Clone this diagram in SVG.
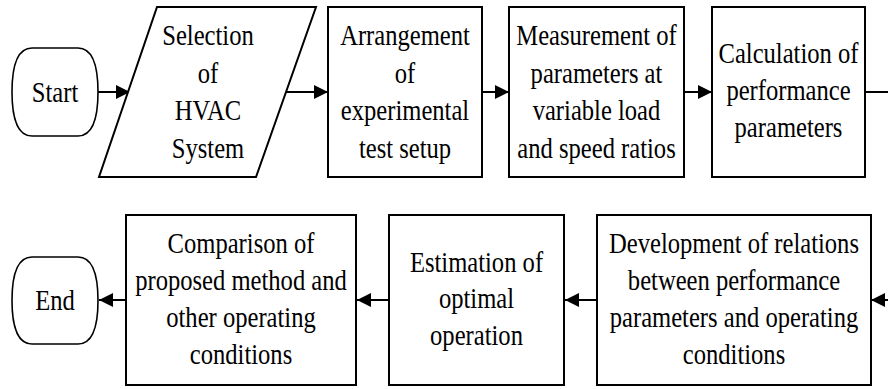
<svg xmlns="http://www.w3.org/2000/svg" width="888" height="389" viewBox="0 0 888 389">
<style>
.shape{fill:#fff;stroke:#000;stroke-width:2}
.term{fill:#fff;stroke:#000;stroke-width:1.6}
.conn{fill:none;stroke:#000;stroke-width:2}
.t{font-family:'Liberation Serif','Times New Roman',serif;font-size:30px;fill:#000;text-anchor:middle}
</style>
<defs>
<marker id="ah" markerUnits="userSpaceOnUse" markerWidth="15" markerHeight="15" refX="14" refY="7" orient="auto">
<path d="M0,0 L14,7 L0,14 Z" fill="#000"/>
</marker>
</defs>
<g id="connectors">
<line class="conn" x1="98" y1="92" x2="130" y2="92" marker-end="url(#ah)"/>
<line class="conn" x1="286" y1="92" x2="328" y2="92" marker-end="url(#ah)"/>
<line class="conn" x1="482" y1="92" x2="509" y2="92" marker-end="url(#ah)"/>
<line class="conn" x1="684" y1="92" x2="712" y2="92" marker-end="url(#ah)"/>
<line class="conn" x1="865" y1="92" x2="888" y2="92"/>
<line class="conn" x1="888" y1="300" x2="871" y2="300" marker-end="url(#ah)"/>
<line class="conn" x1="597" y1="300" x2="565" y2="300" marker-end="url(#ah)"/>
<line class="conn" x1="389" y1="300" x2="357" y2="300" marker-end="url(#ah)"/>
<line class="conn" x1="126" y1="300" x2="99" y2="300" marker-end="url(#ah)"/>
</g>
<g id="start">
<path class="term" d="M32,48 H78 C94,48 98,70 98,92 C98,114 94,136 78,136 H32 C16,136 12,114 12,92 C12,70 16,48 32,48 Z"/>
<text class="t" transform="translate(55 0) scale(0.82 1)" x="0" y="102">Start</text>
</g>
<g id="selection">
<polygon class="shape" points="157,7 316,7 256,177 99,177"/>
<text class="t" transform="translate(208 0) scale(0.82 1)"><tspan x="0" y="45">Selection</tspan><tspan x="0" y="82.7">of</tspan><tspan x="0" y="120.4">HVAC</tspan><tspan x="0" y="158">System</tspan></text>
</g>
<g id="arrangement">
<rect class="shape" x="328" y="7" width="154" height="170"/>
<text class="t" transform="translate(405 0) scale(0.82 1)"><tspan x="0" y="45">Arrangement</tspan><tspan x="0" y="82.7">of</tspan><tspan x="0" y="120.4">experimental</tspan><tspan x="0" y="158">test setup</tspan></text>
</g>
<g id="measurement">
<rect class="shape" x="509" y="7" width="175" height="170"/>
<text class="t" transform="translate(596.5 0) scale(0.82 1)"><tspan x="0" y="45">Measurement of</tspan><tspan x="0" y="82.7">parameters at</tspan><tspan x="0" y="120.4">variable load</tspan><tspan x="0" y="158">and speed ratios</tspan></text>
</g>
<g id="calculation">
<rect class="shape" x="712" y="7" width="153" height="170"/>
<text class="t" transform="translate(788.5 0) scale(0.82 1)"><tspan x="0" y="63.5">Calculation of</tspan><tspan x="0" y="100.5">performance</tspan><tspan x="0" y="137.5">parameters</tspan></text>
</g>
<g id="development">
<rect class="shape" x="597" y="215" width="274" height="170"/>
<text class="t" transform="translate(734 0) scale(0.82 1)"><tspan x="0" y="253">Development of relations</tspan><tspan x="0" y="290">between performance</tspan><tspan x="0" y="327">parameters and operating</tspan><tspan x="0" y="364">conditions</tspan></text>
</g>
<g id="estimation">
<rect class="shape" x="389" y="215" width="175" height="170"/>
<text class="t" transform="translate(476.5 0) scale(0.82 1)"><tspan x="0" y="272">Estimation of</tspan><tspan x="0" y="308.5">optimal</tspan><tspan x="0" y="345">operation</tspan></text>
</g>
<g id="comparison">
<rect class="shape" x="126" y="215" width="230" height="170"/>
<text class="t" transform="translate(241 0) scale(0.82 1)"><tspan x="0" y="253">Comparison of</tspan><tspan x="0" y="290">proposed method and</tspan><tspan x="0" y="327">other operating</tspan><tspan x="0" y="364">conditions</tspan></text>
</g>
<g id="end">
<path class="term" d="M32,257 H78 C94,257 98,279 98,300.5 C98,322 94,344 78,344 H32 C16,344 12,322 12,300.5 C12,279 16,257 32,257 Z"/>
<text class="t" transform="translate(55 0) scale(0.82 1)" x="0" y="310.5">End</text>
</g>
</svg>
